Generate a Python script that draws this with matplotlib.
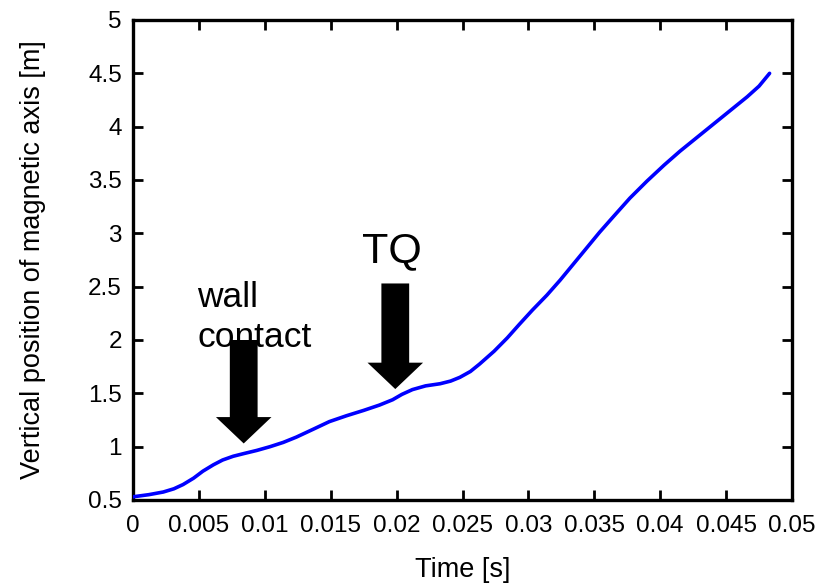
import matplotlib
matplotlib.use("Agg")
import matplotlib.pyplot as plt

plt.rcParams['font.family'] = ['Liberation Sans', 'DejaVu Sans']

time_s = [0.0, 0.0012, 0.0023, 0.0031, 0.0038, 0.0046, 0.0053, 0.0061, 0.0068, 0.0076, 0.0084,
          0.0094, 0.0104, 0.0114, 0.0124, 0.0137, 0.0149, 0.0162, 0.0175, 0.0187, 0.0197,
          0.0204, 0.0212, 0.0222, 0.0233, 0.0241, 0.0248, 0.0256, 0.0263, 0.0274, 0.0284,
          0.0293, 0.0303, 0.0314, 0.0324, 0.0334, 0.0344, 0.0354, 0.0364, 0.0377, 0.0390,
          0.0403, 0.0415, 0.0428, 0.0440, 0.0453, 0.0466, 0.0475, 0.0483]
position_m = [0.53, 0.55, 0.575, 0.605, 0.645, 0.705, 0.77, 0.83, 0.875, 0.91, 0.935,
              0.965, 1.00, 1.04, 1.09, 1.165, 1.235, 1.29, 1.34, 1.39, 1.44,
              1.49, 1.535, 1.57, 1.59, 1.615, 1.65, 1.705, 1.775, 1.895, 2.02,
              2.145, 2.28, 2.42, 2.56, 2.71, 2.86, 3.01, 3.15, 3.33, 3.49,
              3.64, 3.77, 3.90, 4.02, 4.15, 4.28, 4.38, 4.50]

x_ticks = [0, 0.005, 0.01, 0.015, 0.02, 0.025, 0.03, 0.035, 0.04, 0.045, 0.05]
x_tick_labels = ['0', '0.005', '0.01', '0.015', '0.02', '0.025', '0.03', '0.035', '0.04', '0.045', '0.05']
y_ticks = [0.5, 1, 1.5, 2, 2.5, 3, 3.5, 4, 4.5, 5]
y_tick_labels = ['0.5', '1', '1.5', '2', '2.5', '3', '3.5', '4', '4.5', '5']

# arrows: (tip_x, tip_y, tail_y)
arrow_wall = (0.0084, 1.03, 2.0)
arrow_tq = (0.0199, 1.54, 2.53)

fig = plt.figure(figsize=(8.19, 5.83), dpi=100)
ax = fig.add_axes([133/819, 1-500/583, (792-133)/819, (500-20)/583])

ax.plot(time_s, position_m, color='#0000ff', lw=2.6, zorder=3,
        solid_joinstyle='round', solid_capstyle='round')

ax.set_xlim(0, 0.05)
ax.set_ylim(0.5, 5)
ax.set_xticks(x_ticks)
ax.set_xticklabels(x_tick_labels)
ax.set_yticks(y_ticks)
ax.set_yticklabels(y_tick_labels)
ax.tick_params(direction='in', length=7, width=2, top=True, right=True,
               labelsize=17.5, pad=11, colors='black')
ax.tick_params(axis='y', pad=8)
for s in ax.spines.values():
    s.set_linewidth(2.4)

ax.set_xlabel('Time [s]', fontsize=19.5, labelpad=14)
ax.set_ylabel('Vertical position of magnetic axis [m]', fontsize=19.5, labelpad=30)

ax.text(0.00486, 2.31, 'wall', fontsize=25.5, va='baseline', ha='left', zorder=4)
ax.text(0.00486, 1.93, 'contact', fontsize=25.5, va='baseline', ha='left', zorder=4)
ax.text(0.0174, 2.73, 'TQ', fontsize=31, va='baseline', ha='left', zorder=4)

style = 'simple,head_length=19,head_width=40,tail_width=20'
for tx, ty, tail in (arrow_wall, arrow_tq):
    ax.annotate('', xy=(tx, ty), xytext=(tx, tail),
                arrowprops=dict(arrowstyle=style, mutation_scale=1, color='black',
                                shrinkA=0, shrinkB=0, lw=0), zorder=5)

fig.savefig('out.png', dpi=100)
